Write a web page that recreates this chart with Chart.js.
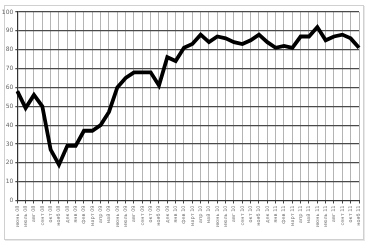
<!DOCTYPE html>
<html>
<head>
<meta charset="utf-8">
<script src="https://cdn.jsdelivr.net/npm/chart.js@4"></script>
<style>
  html, body { margin: 0; padding: 0; background: #fff; }
  #wrap { position: relative; width: 367px; height: 245px; }
  #frame { position: absolute; left: 4px; top: 5px; width: 358px; height: 233px; border: 1px solid #d0d0d0; box-shadow: 1px 1px 0 #e8e8e8; }
  canvas { position: absolute; left: 0; top: 0; }
</style>
</head>
<body>
<div id="wrap">
  <div id="frame"></div>
  <canvas id="chart" width="367" height="245"></canvas>
</div>
<script>
// months on the x axis
var labels = [
    'июнь 08', 'июль 08', 'авг 08', 'сент 08', 'окт 08', 'нояб 08', 'дек 08',
    'янв 09', 'фев 09', 'март 09', 'апр 09', 'май 09', 'июнь 09', 'июль 09',
    'авг 09', 'сент 09', 'окт 09', 'нояб 09', 'дек 09', 'янв 10', 'фев 10',
    'март 10', 'апр 10', 'май 10', 'июнь 10', 'июль 10', 'авг 10', 'сент 10',
    'окт 10', 'нояб 10', 'дек 10', 'янв 11', 'фев 11', 'март 11', 'апр 11',
    'май 11', 'июнь 11', 'июль 11', 'авг 11', 'сент 11', 'окт 11', 'нояб 11'
];

// index values
var values = [
    58, 49, 56, 50, 27, 19, 29, 29, 37, 37, 40, 47, 60, 65,
    68, 68, 68, 61, 76, 74, 81, 83, 88, 84, 87, 86, 84, 83,
    85, 88, 84, 81, 82, 81, 87, 87, 92, 85, 87, 88, 86, 81
];

var yMin = 0, yMax = 100, yStep = 10;

document.addEventListener('DOMContentLoaded', function() {
    var ctx = document.getElementById('chart').getContext('2d');
    new Chart(ctx, {
        type: 'line',
        data: {
            labels: labels,
            datasets: [{
                data: values,
                borderColor: '#000',
                borderWidth: 3.8,
                pointRadius: 0,
                tension: 0,
                fill: false
            }]
        },
        options: {
            responsive: false,
            animation: false,
            layout: { padding: { left: 0, top: 12, right: 8, bottom: 0 } },
            plugins: { legend: { display: false }, tooltip: { enabled: false } },
            scales: {
                x: {
                    offset: false,
                    grid: { color: '#b4b4b4', lineWidth: 1, tickLength: 3, tickColor: '#444' },
                    border: { color: '#333', width: 1 },
                    ticks: {
                        autoSkip: false,
                        minRotation: 90,
                        maxRotation: 90,
                        padding: 2,
                        color: '#777',
                        font: { family: 'DejaVu Sans', size: 5 }
                    },
                    afterFit: function(scale) { scale.height = 44.5; }
                },
                y: {
                    min: yMin,
                    max: yMax,
                    grid: { color: '#4a4a4a', lineWidth: 1.2, tickLength: 2, tickColor: '#555' },
                    border: { color: '#333', width: 1.2 },
                    ticks: {
                        stepSize: yStep,
                        padding: 2,
                        color: '#666',
                        font: { family: 'DejaVu Sans', size: 6 }
                    },
                    afterFit: function(scale) { scale.width = 17.3; }
                }
            }
        }
    });
});
</script>
</body>
</html>
